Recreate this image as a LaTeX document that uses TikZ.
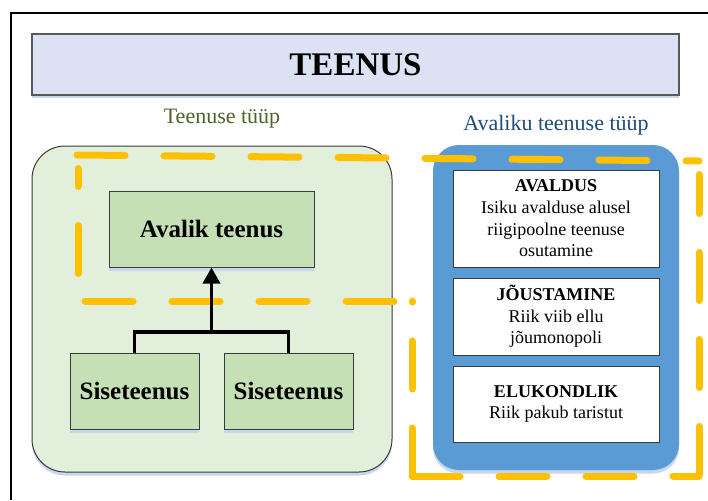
\documentclass[tikz,border=0pt]{standalone}
\usepackage{fontspec}
\setmainfont{Liberation Serif}
\usetikzlibrary{arrows.meta,shadows}

\definecolor{titlefill}{HTML}{DCE1F3}
\definecolor{titleline}{HTML}{595959}
\definecolor{panelgreen}{HTML}{E2EFDA}
\definecolor{boxgreen}{HTML}{C5E0B4}
\definecolor{panelblue}{HTML}{5B9BD5}
\definecolor{accent}{HTML}{FFC000}
\definecolor{labelgreen}{HTML}{4F6228}
\definecolor{labelblue}{HTML}{1F4E79}
\definecolor{shade}{HTML}{C6D6EC}
\definecolor{edge}{HTML}{3A3A3A}

\tikzset{
  softshadow/.style={drop shadow={shadow xshift=0pt, shadow yshift=-3.5pt, fill=shade, opacity=1}},
  titlebox/.style={draw=titleline, line width=1.5pt, fill=titlefill, softshadow,
    inner sep=0pt, font=\fontsize{33}{38}\selectfont\bfseries},
  greenpanel/.style={draw=edge, line width=1pt, fill=panelgreen, rounded corners=33pt,
    softshadow, inner sep=0pt},
  bluepanel/.style={fill=panelblue, rounded corners=26pt, softshadow, inner sep=0pt},
  servicebox/.style={draw=edge, line width=1pt, fill=boxgreen, softshadow, inner sep=0pt,
    font=\fontsize{25}{30}\selectfont\bfseries},
  typebox/.style={draw=edge, line width=1pt, fill=white, inner sep=0pt, align=center,
    minimum width=206pt, font=\fontsize{18}{21.6}\selectfont},
  caption/.style={inner sep=0pt, font=\fontsize{22}{26}\selectfont},
  link/.style={draw=black, line width=3.5pt},
  accentdash/.style={draw=accent, line width=7pt, line cap=round, dash pattern=on 48pt off 39pt},
  frameline/.style={draw=black, line width=1.3pt}
}

\begin{document}
\begin{tikzpicture}[x=1pt, y=-1pt]
  \useasboundingbox (0,0) rectangle (708,500);
  \fill[white] (0,0) rectangle (708,500);

  % page frame
  \draw[frameline] (11,500) -- (11,13) -- (708,13);

  % heading
  \node[titlebox, minimum width=647pt, minimum height=61pt] (title) at (355.5,64.5) {TEENUS};

  % captions
  \node[caption, text=labelgreen] (capleft) at (222,119) {Teenuse tüüp};
  \node[caption, text=labelblue] (capright) at (556,125) {Avaliku teenuse tüüp};

  % left panel
  \node[greenpanel, minimum width=360pt, minimum height=326pt] (leftpanel) at (212,309) {};
  \node[servicebox, minimum width=205pt, minimum height=76pt] (avalik) at (211.5,229) {Avalik teenus};
  \node[servicebox, minimum width=129pt, minimum height=76pt] (sise1) at (134.5,391) {Siseteenus};
  \node[servicebox, minimum width=129pt, minimum height=76pt] (sise2) at (288.5,391) {Siseteenus};

  % right panel
  \node[bluepanel, minimum width=246pt, minimum height=325pt] (rightpanel) at (556,307.5) {};
  \node[typebox, minimum height=97pt] (avaldus) at (556,218.5)
    {\textbf{AVALDUS}\\Isiku avalduse alusel\\riigipoolne teenuse\\osutamine};
  \node[typebox, minimum height=77pt] (joustamine) at (556,316.5)
    {\textbf{JÕUSTAMINE}\\Riik viib ellu\\jõumonopoli};
  \node[typebox, minimum height=76pt] (elukondlik) at (556,404)
    {\textbf{ELUKONDLIK}\\Riik pakub taristut};

  % dashed outline around the public-service area
  \draw[accentdash] (77,155) -- (699,161);
  \draw[accentdash, dash phase=9pt] (699,174.5) -- (699,476);
  \draw[accentdash] (412,476) -- (699,476);
  \draw[accentdash] (412,476) -- (412,301);
  \draw[accentdash] (85,301) -- (412,301);
  \draw[accentdash, dash phase=30pt] (78,168.5) -- (78,301);

  % hierarchy connector
  \coordinate (junction) at (211.5,332);
  \draw[link] (sise1.north) |- (junction) -| (sise2.north);
  \draw[link, -{Triangle[width=17pt,length=16pt]}] (junction) -- (avalik.south);
\end{tikzpicture}
\end{document}
